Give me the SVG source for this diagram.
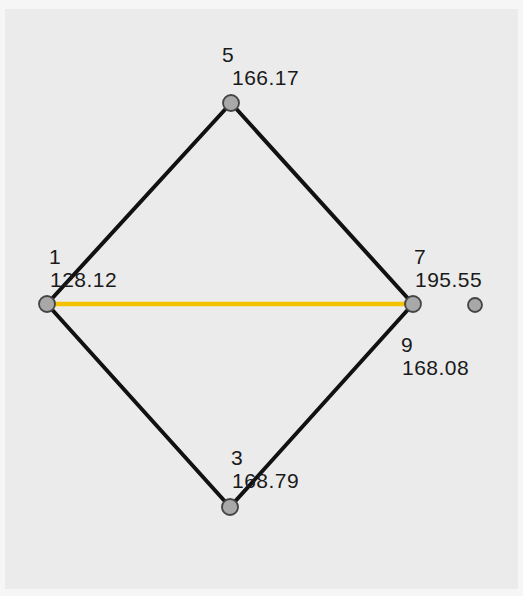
<svg xmlns="http://www.w3.org/2000/svg" width="523" height="596" viewBox="0 0 523 596">
  <style>
    .lbl { font-family: "Liberation Sans", Arial, sans-serif; font-size: 21px; letter-spacing: 0.5px; fill: #1a1a1a; }
    .edge { stroke: #111; stroke-width: 4; fill: none; stroke-linecap: round; }
    .hl { stroke: #f2c200; stroke-width: 4.5; fill: none; }
    .node { fill: #a8a8a8; stroke: #444; stroke-width: 1.8; }
  </style>
  <rect x="0" y="0" width="523" height="596" fill="#f6f6f6"/>
  <rect x="5" y="9" width="513" height="580" fill="#ebebeb"/>
  <g id="connectors">
    <line class="edge" x1="47" y1="304" x2="231" y2="103"/>
    <line class="edge" x1="231" y1="103" x2="413" y2="304"/>
    <line class="edge" x1="413" y1="304" x2="230" y2="507"/>
    <line class="edge" x1="230" y1="507" x2="47" y2="304"/>
    <line class="hl" x1="47" y1="304" x2="413" y2="304"/>
  </g>
  <g id="node5">
    <circle class="node" cx="231" cy="103" r="8"/>
    <text class="lbl" x="222" y="62">5</text>
    <text class="lbl" x="232" y="85">166.17</text>
  </g>
  <g id="node1">
    <circle class="node" cx="47" cy="304" r="8"/>
    <text class="lbl" x="49" y="264">1</text>
    <text class="lbl" x="50" y="287">128.12</text>
  </g>
  <g id="node7">
    <circle class="node" cx="413" cy="304" r="8"/>
    <text class="lbl" x="414" y="264">7</text>
    <text class="lbl" x="415" y="287">195.55</text>
  </g>
  <g id="node3">
    <circle class="node" cx="230" cy="507" r="8"/>
    <text class="lbl" x="231" y="465">3</text>
    <text class="lbl" x="232" y="488">168.79</text>
  </g>
  <g id="node9">
    <circle class="node" cx="475" cy="305" r="7"/>
    <text class="lbl" x="401" y="352">9</text>
    <text class="lbl" x="402" y="375">168.08</text>
  </g>
</svg>
